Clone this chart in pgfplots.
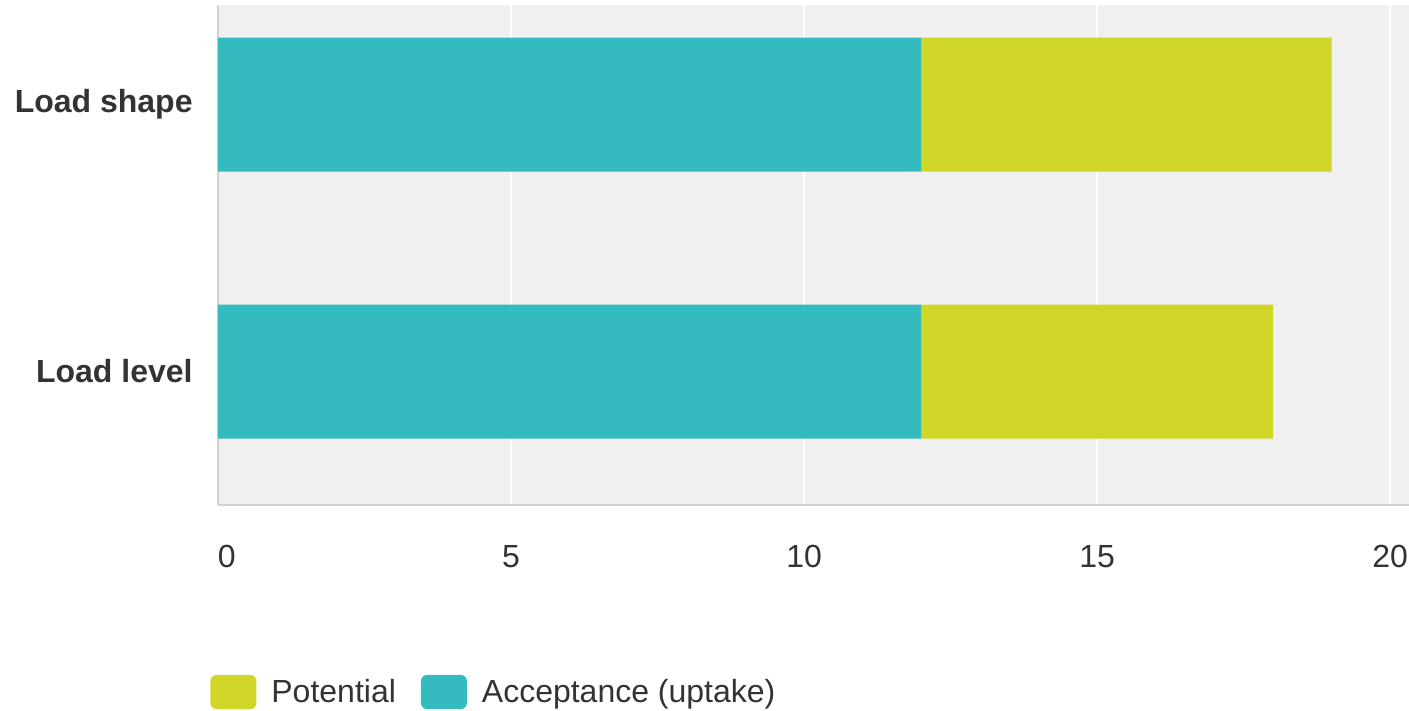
\documentclass[border=0pt]{standalone}
\usepackage{fontspec}
\setmainfont{Liberation Sans}
\usepackage{pgfplots}
\pgfplotsset{compat=1.18}
\definecolor{accept}{HTML}{33BBBF}
\definecolor{potential}{HTML}{CFD628}
\definecolor{bggray}{HTML}{F0F0F0}
\definecolor{axisgray}{HTML}{D2D2D2}
\definecolor{txt}{HTML}{333333}
\pgfplotsset{
  sq legend/.style={legend image code/.code={%
    \fill[##1, draw=none, rounded corners=3pt] (0pt,-8.5pt) rectangle (23pt,8.5pt);}},
}

\begin{document}
\begin{tikzpicture}[font=\fontsize{16}{19}\selectfont]
\begin{axis}[
  at={(0,0)}, anchor=south west,
  scale only axis,
  width=595.5pt, height=250pt,
  xbar stacked, bar width=67pt,
  xmin=0, xmax=20.32, ymin=-0.5, ymax=1.373,
  xtick={0,5,10,15,20},
  xticklabels={\makebox[0pt][l]{0},5,10,15,20},
  ytick={0,1},
  yticklabels={Load level,Load shape},
  /pgf/number format/assume math mode=true,
  major tick length=0pt,
  tick style={draw=none},
  xmajorgrids, ymajorgrids=false,
  grid style={white, line width=1pt},
  axis background/.style={fill=bggray},
  axis x line=bottom, axis y line=left,
  x axis line style={-, draw=axisgray, line width=1.2pt},
  y axis line style={-, draw=axisgray, line width=1.2pt},
  xticklabel style={anchor=north, inner sep=0pt, yshift=-20pt, text=txt},
  yticklabel style={anchor=east, inner sep=0pt, xshift=-12.5pt, font=\fontsize{16}{19}\selectfont\bfseries, text=txt},
  legend style={draw=none, fill=none, at={(0,0)}, anchor=west,
    xshift=-4pt, yshift=-93.5pt, inner sep=0pt,
    /tikz/every odd column/.append style={column sep=7.5pt},
    /tikz/every even column/.append style={column sep=12.5pt},
    nodes={inner sep=0pt, text=txt}},
  legend columns=-1,
]
\addplot+[forget plot, fill=accept, draw=none] coordinates {(12,0) (12,1)};
\addplot+[forget plot, fill=potential, draw=none] coordinates {(6,0) (7,1)};
\addlegendimage{sq legend, fill=potential}
\addlegendentry{Potential}
\addlegendimage{sq legend, fill=accept}
\addlegendentry{Acceptance (uptake)}
\end{axis}
\pgfresetboundingbox
\path[use as bounding box] (-109pt,-103pt) rectangle (595.5pt,252.5pt);
\end{tikzpicture}
\end{document}
